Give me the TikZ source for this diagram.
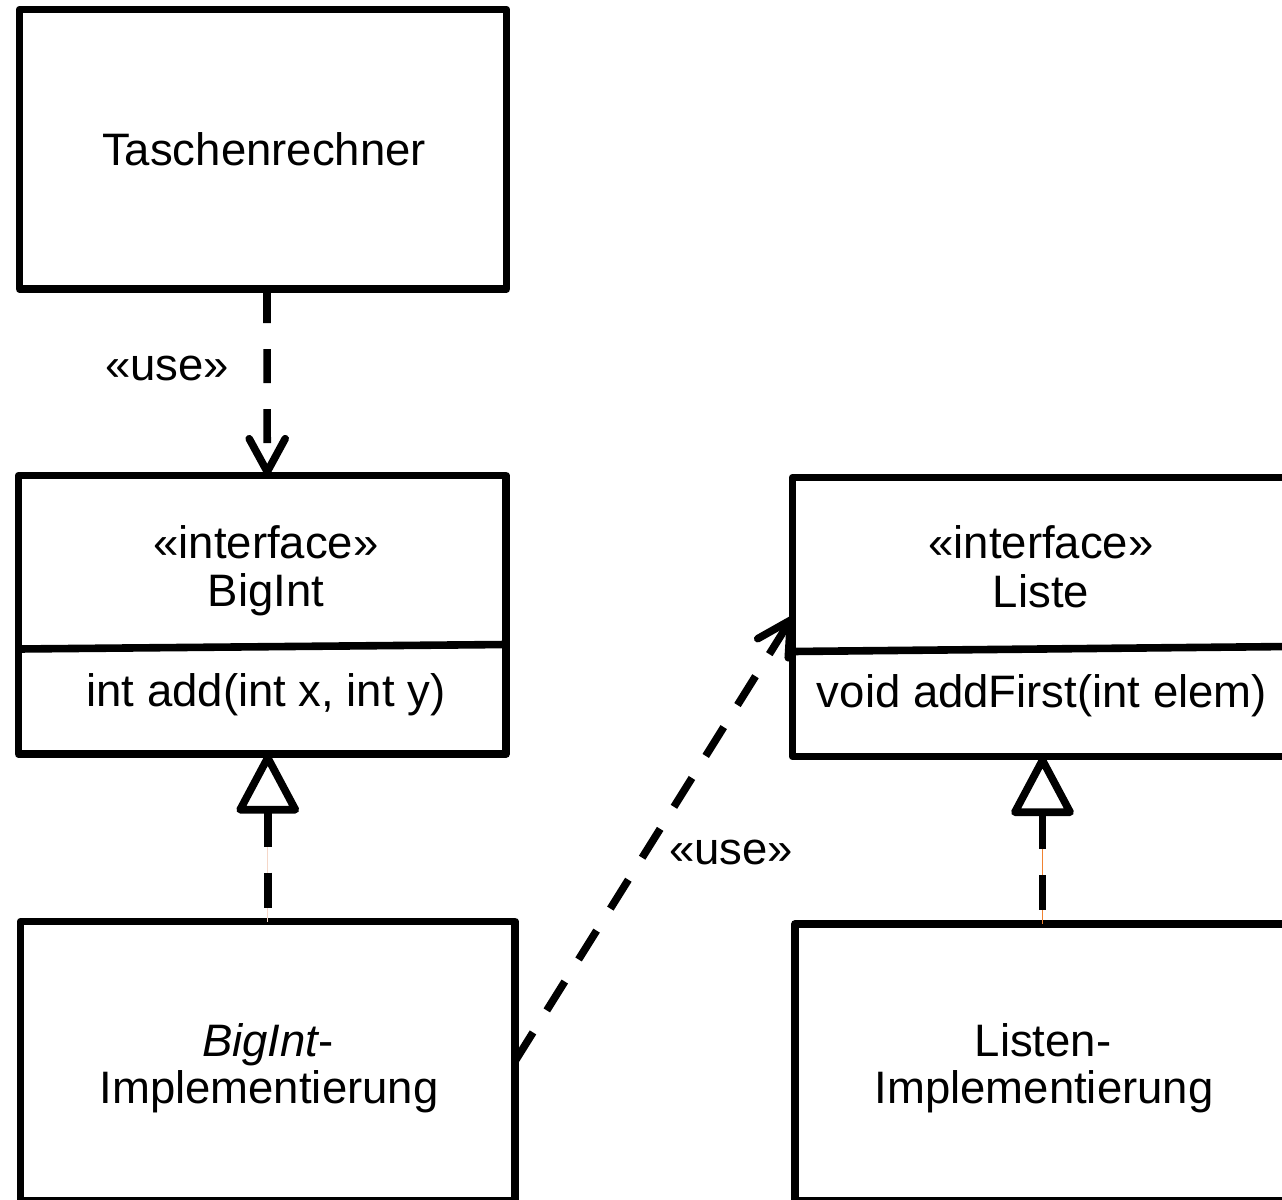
\documentclass[tikz,border=0pt]{standalone}
\usepackage{fontspec}
\setmainfont{Liberation Sans}
\usetikzlibrary{arrows.meta,fit,calc}
\begin{document}
\begin{tikzpicture}[x=0.5pt,y=-0.5pt,
  umlbox/.style={draw, line width=3.8pt, line join=round, inner sep=0pt, outer sep=0pt},
  sepline/.style={line width=3.8pt},
  txt/.style={font=\fontsize{22.75pt}{24pt}\selectfont, inner sep=0pt, anchor=base},
  usedep/.style={line width=3.8pt, dash pattern=on 17pt off 13pt,
    -{Straight Barb[length=16.5pt,width=18pt,round]}},
  realize/.style={line width=3.8pt, dash pattern=on 17.5pt off 13pt,
    {Triangle[open,length=32pt,width=33pt,round]}-},
  hairline/.style={line width=0.6pt}
]
\useasboundingbox (0,0) rectangle (1282,1200);
\clip (0,0) rectangle (1282,1200);

% class boxes
\node[umlbox, fit={(19.5,9.5) (506.5,289)}] (tr) {};
\node[umlbox, fit={(18.5,475.5) (506,754)}] (bi) {};
\node[umlbox, fit={(792.5,477.5) (1290,756.5)}] (li) {};
\node[umlbox, fit={(20.5,921.5) (515,1201)}] (bimpl) {};
\node[umlbox, fit={(795,924) (1290,1201)}] (limpl) {};

% compartment separators
\draw[sepline] (18.5,649) -- (506,644.5);
\draw[sepline] (792.5,651.5) -- (1290,646.5);

% texts
\node[txt] (trname) at (264,165) {Taschenrechner};
\node[txt] (bistereo) at (266,558) {«interface»};
\node[txt] (biname) at (266,606) {BigInt};
\node[txt] (biop) at (266,706) {int add(int x, int y)};
\node[txt] (listereo) at (1041,558) {«interface»};
\node[txt] (liname) at (1041,607) {Liste};
\node[txt] (liop) at (1042,707) {void addFirst(int elem)};
\node[txt] (bimpl1) at (268,1056) {\itshape BigInt\upshape -};
\node[txt] (bimpl2) at (269,1103) {Implementierung};
\node[txt] (limpl1) at (1043,1056) {Listen-};
\node[txt] (limpl2) at (1044,1103) {Implementierung};
\node[txt] (use1) at (167,380) {«use»};
\node[txt] (use2) at (731,864) {«use»};

% dependencies
\draw[usedep] ($(tr.south)+(4,0)$) -- ($(bi.north)+(5,0)$);
\draw[usedep] (bimpl.east) -- (li.west);

% realizations
\draw[hairline, draw={rgb,255:red,245;green,215;blue,200}] (bimpl.north) -- ($(bimpl.north |- bi.south)+(0,90)$);
\draw[hairline, draw={rgb,255:red,240;green,130;blue,50}] (limpl.north) -- ($(limpl.north |- li.south)+(0,90)$);
\draw[realize] (bimpl.north |- bi.south) -- (bimpl.north);
\draw[realize] (limpl.north |- li.south) -- (limpl.north);
\end{tikzpicture}
\end{document}
